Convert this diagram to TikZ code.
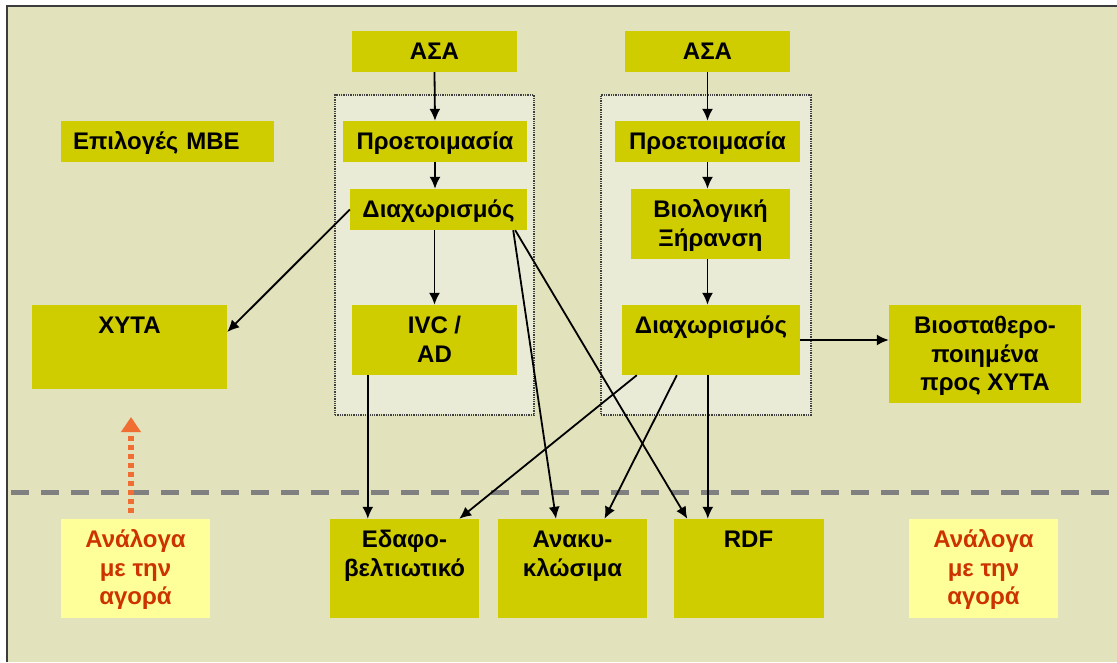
\documentclass[tikz,border=0pt]{standalone}
\usepackage{fontspec}
\setmainfont{Liberation Sans}
\usetikzlibrary{arrows.meta}
\definecolor{bgkhaki}{RGB}{226,226,188}
\definecolor{boxyel}{RGB}{207,204,0}
\definecolor{grpfill}{RGB}{234,235,214}
\definecolor{mktfill}{RGB}{255,255,153}
\definecolor{mkttext}{RGB}{204,51,0}
\definecolor{mktarrow}{RGB}{240,110,50}
\definecolor{divgray}{RGB}{128,128,128}
\definecolor{framegray}{RGB}{60,60,60}
\tikzset{
  blk/.style={fill=boxyel,text=black,font=\bfseries\fontsize{24}{28.5}\selectfont,
    align=center,inner sep=0pt,text height=28.5pt},
  mkt/.style={blk,fill=mktfill,text=mkttext},
  grp/.style={draw=black!75,densely dotted,line width=1.3pt,fill=grpfill,inner sep=0pt},
  arr/.style={->,line width=1.8pt},
  mktarr/.style={draw=mktarrow,line width=5.5pt,dash pattern=on 5pt off 4pt,
    -{Triangle[length=15pt,width=19pt]}},
}
\begin{document}
\begin{tikzpicture}[x=1pt,y=-1pt,>={Latex[length=12pt,width=11pt]}]
\useasboundingbox (0,0) rectangle (1117,662);
\fill[bgkhaki] (7,6) rectangle (1117,662);
\draw[framegray,line width=2pt] (7,662) -- (7,6) -- (1117,6);
% market line
\coordinate (divL) at (11,492);
\coordinate (divR) at (1117,492);
\draw[divgray,line width=5pt,dash pattern=on 18pt off 12pt] (divL) -- (divR);

% the two process lines
\node[grp,minimum width=199pt,minimum height=320pt] (grpL) at (434.5,255) {};
\node[grp,minimum width=210pt,minimum height=320pt] (grpR) at (706,255) {};

\node[blk,minimum width=165pt,text depth=12.5pt] (asaL) at (434.5,51.5) {ΑΣΑ};
\node[blk,minimum width=165pt,text depth=12.5pt] (asaR) at (707.5,51.5) {ΑΣΑ};
\node[blk,text width=189pt,inner xsep=12pt,align=left,text depth=12.5pt] (mbe) at (167.5,141.5) {Επιλογές ΜΒΕ};

\node[blk,minimum width=184pt,text depth=12.5pt] (prepL) at (435,141.5) {Προετοιμασία};
\node[blk,minimum width=177pt,text depth=12.5pt] (sepL) at (438.5,209.5) {Διαχωρισμός};
\node[blk,minimum width=165pt,text height=57pt,text depth=13pt] (ivc) at (434.5,340) {IVC /\\AD};

\node[blk,minimum width=185pt,text depth=12.5pt] (prepR) at (707.5,141.5) {Προετοιμασία};
\node[blk,minimum width=159pt,text height=57pt,text depth=13pt] (bio) at (710.5,224) {Βιολογική\\Ξήρανση};
\node[blk,minimum width=178pt,text depth=41.5pt] (sepR) at (711,340) {Διαχωρισμός};

\node[blk,minimum width=195pt,text depth=55.5pt] (xyta) at (129.5,347) {ΧΥΤΑ};
\node[blk,minimum width=192pt,text height=85.5pt,text depth=12.5pt] (stab) at (985,354) {Βιοσταθερο-\\ποιημένα\\προς ΧΥΤΑ};

% products
\node[mkt,minimum width=149pt,text height=85.5pt,text depth=13.5pt] (mktL) at (135.5,568.5) {Ανάλογα\\με την\\αγορά};
\node[blk,minimum width=149pt,text height=57pt,text depth=42pt] (soil) at (404.5,568.5) {Εδαφο-\\βελτιωτικό};
\node[blk,minimum width=149pt,text height=57pt,text depth=42pt] (recyc) at (572.5,568.5) {Ανακυ-\\κλώσιμα};
\node[blk,minimum width=150pt,text depth=70.5pt] (rdf) at (748.5,568.5) {RDF};
\node[mkt,minimum width=149pt,text height=85.5pt,text depth=13.5pt] (mktR) at (983.5,568.5) {Ανάλογα\\με την\\αγορά};

% left line
\draw[arr] (asaL.south) -- (prepL.north);
\draw[arr] (prepL.south) -- (prepL.south |- sepL.north);
\draw[arr] (ivc.north |- sepL.south) -- (ivc.north);
\draw[arr] (sepL.west) -- ([yshift=15pt]xyta.east);
\draw[arr] ([xshift=-14pt]sepL.south east) -- ([xshift=-16.5pt]recyc.north);
\draw[arr] ([xshift=-12pt]sepL.south east) -- ([xshift=14pt]rdf.north west);
\draw[arr] ([xshift=16pt]ivc.south west) -- ([xshift=38pt]soil.north west);

% right line
\draw[arr] (asaR.south) -- (prepR.north);
\draw[arr] (prepR.south) -- (prepR.south |- bio.north);
\draw[arr] (prepR.south |- bio.south) -- (prepR.south |- sepR.north);
\draw[arr] (sepR.east) -- (sepR.east -| stab.west);
\draw[arr] ([xshift=15pt]sepR.south west) -- ([xshift=-20pt]soil.north east);
\draw[arr] ([xshift=55pt]sepR.south west) -- ([xshift=32pt]recyc.north);
\draw[arr] ([xshift=86pt]sepR.south west) -- ([xshift=34.5pt]rdf.north west);

% market feedback
\coordinate (mktTip) at (131,417);
\draw[mktarr] ([xshift=-4.5pt,yshift=6pt]mktL.north) -- (mktTip);
\end{tikzpicture}
\end{document}
